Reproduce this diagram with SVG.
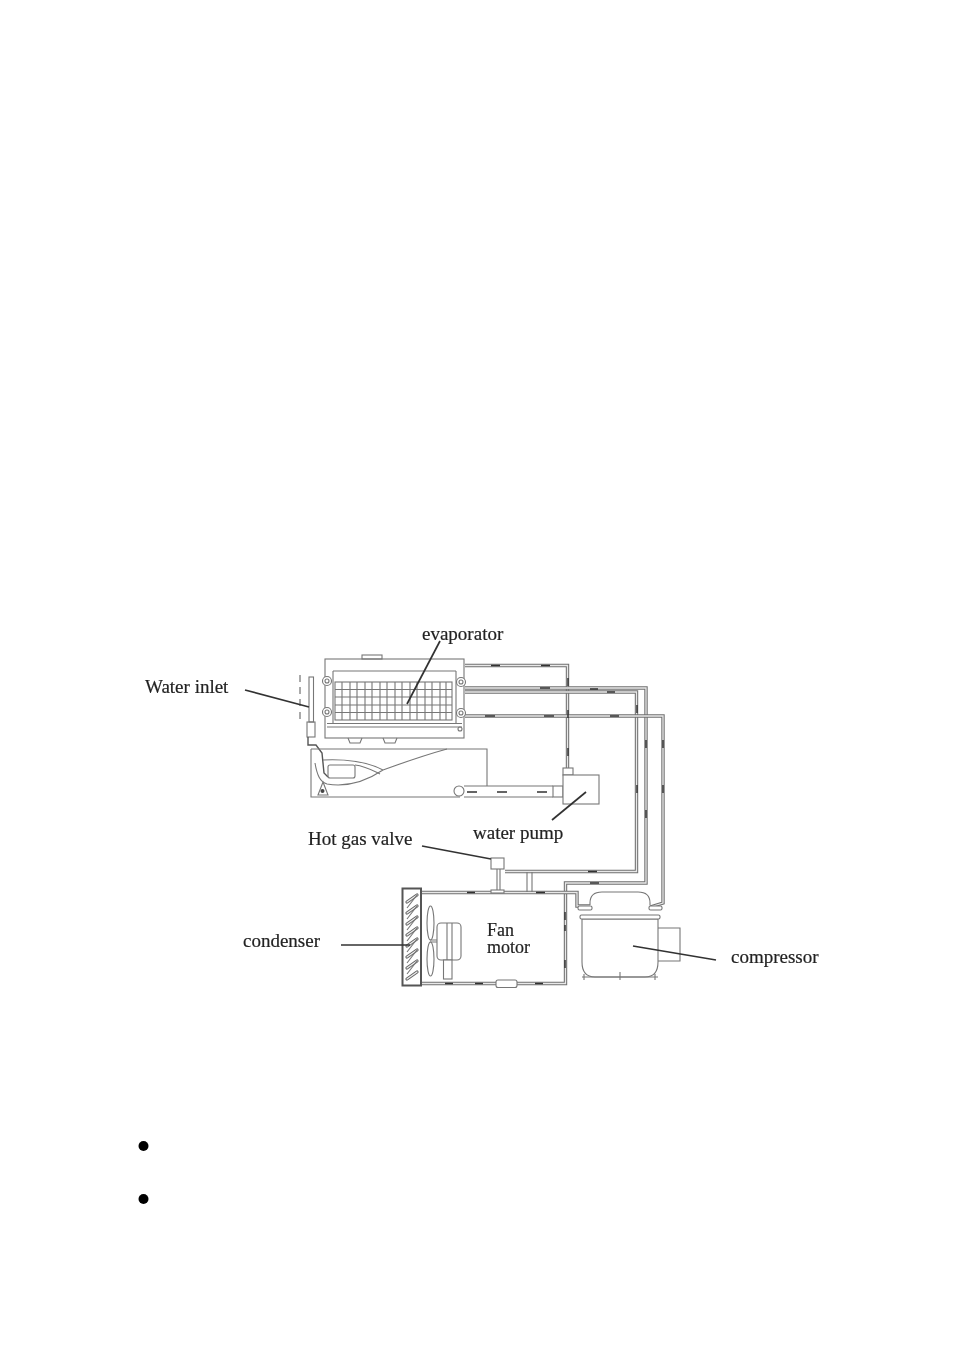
<svg xmlns="http://www.w3.org/2000/svg" width="954" height="1350" viewBox="0 0 954 1350">
<defs><filter id="scan" x="0" y="0" width="1" height="1" filterUnits="objectBoundingBox"><feGaussianBlur stdDeviation="0.35"/></filter></defs>
<style>
.l{fill:none;stroke:#777;stroke-width:1.1}
.w{fill:#fff;stroke:#777;stroke-width:1.1}
.p{fill:none;stroke:#707070;stroke-width:3.4}
.pi{fill:none;stroke:#e8e8e8;stroke-width:1.3}
.d{fill:none;stroke:#333;stroke-width:1.5}
.k{fill:none;stroke:#333;stroke-width:1.7}
.c{fill:none;stroke:#666;stroke-width:3.2;stroke-linecap:round}
.ci{fill:none;stroke:#eee;stroke-width:1.2;stroke-linecap:round}
.t{font-family:"Liberation Serif","Times New Roman",serif;font-size:19px;fill:#222;stroke:#222;stroke-width:.2}
</style>
<rect width="954" height="1350" fill="#fff"/>
<g filter="url(#scan)">
<rect width="954" height="1350" fill="#fff"/>
<g id="connectors">
<path class="p" d="M465 665.500H567.500V768"/><path class="pi" d="M465 665.500H567.500V768"/>
<path class="p" d="M465 688H646V883H565.500V983.500H421"/><path class="pi" d="M465 688H646V883H565.500V983.500H421"/>
<path class="p" d="M465 692H636.500V871.500H505"/><path class="pi" d="M465 692H636.500V871.500H505"/>
<path class="p" d="M465 716H663V903L650 907"/><path class="pi" d="M465 716H663V903L650 907"/>
<path class="p" d="M421 892.500H577V906H590"/><path class="pi" d="M421 892.500H577V906H590"/>
<path class="l" d="M527 872V892M532 872V892"/>
<path class="l" d="M464 786H553M464 797H553"/>
<g class="d">
<path d="M491 665.500h9M541 665.500h9M568 678v8M568 710v8M568 748v8"/>
<path d="M540 688h10M590 689h8M607 692h8M485 716h10M544 716h10M610 716h9"/>
<path d="M637 705v8M637 785v8M646 740v8M646 810v8M663 740v8M663 785v8"/>
<path d="M467 792h10M497 792h10M537 792h10"/>
<path d="M588 871.500h9M590 883h9M565 912v8M565 960v8M536 892.500h9M467 892.500h8M445 983.500h8M475 983.500h8M535 983.500h8M565 925v6"/>
</g>
</g>
<g id="evaporator">
<rect class="l" x="325" y="659" width="139" height="79"/>
<path class="l" d="M333 671H456M333 671V723M456 671V723"/>
<rect class="l" x="362" y="655" width="20" height="4"/>
<path class="l" d="M327 723.500H462M327 727H462M348 738l2 5h10l2-5M383 738l2 5h10l2-5"/>
<circle class="w" cx="327" cy="681" r="4.500"/><circle class="l" cx="327" cy="681" r="2"/>
<circle class="w" cx="327" cy="712" r="4.500"/><circle class="l" cx="327" cy="712" r="2"/>
<circle class="w" cx="461" cy="682" r="4.500"/><circle class="l" cx="461" cy="682" r="2"/>
<circle class="w" cx="461" cy="713" r="4.500"/><circle class="l" cx="461" cy="713" r="2"/>
<circle class="l" cx="460" cy="729" r="2"/>
<rect class="l" x="335" y="682" width="117" height="38"/>
<path class="l" d="M342 682v38M350 682v38M357 682v38M365 682v38M372 682v38M380 682v38M387 682v38M395 682v38M402 682v38M410 682v38M417 682v38M425 682v38M432 682v38M440 682v38M446 682v38M335 689.500h117M335 697h117M335 705h117M335 712.500h117"/>
</g>
<g id="water-inlet">
<rect class="l" x="309" y="677" width="4.500" height="45"/>
<rect class="l" x="307" y="722" width="8" height="15"/>
<path fill="none" stroke="#555" stroke-width="1.400" d="M308 737v8h8l6 8 2 20 4 4"/>
<path d="M300 675v35M300 712v11" fill="none" stroke="#555" stroke-dasharray="7 5"/>
</g>
<g id="tray">
<path class="l" d="M311 749H487V786M311 749V797H460"/>
<path class="l" d="M323 760C345 759 368 762 383 770C405 762 425 755 447 749M315 763C317 775 320 782 327 784C345 787 365 782 383 770M355 765C365 766 372 770 380 774"/>
<rect class="w" x="328" y="765" width="27" height="13" rx="2"/>
<path class="l" d="M323 782l5 13h-10z"/>
<circle cx="322.500" cy="791" r="2" fill="#444"/>
<circle class="l" cx="459" cy="791" r="5"/>
</g>
<g id="water-pump">
<rect class="w" x="553" y="786" width="10" height="11"/>
<rect class="w" x="563" y="768" width="10" height="7"/>
<rect class="w" x="563" y="775" width="36" height="29"/>
</g>
<g id="valve">
<rect class="w" x="491" y="858" width="13" height="11"/>
<path class="l" d="M497 869v22M500 869v22"/>
<rect class="w" x="491" y="890" width="13" height="3"/>
</g>
<g id="condenser">
<rect x="402.500" y="888.500" width="18.500" height="97" fill="#fff" stroke="#555" stroke-width="2"/>
<path class="c" d="M407 902L417 895M407 913L417 906M407 924L417 917M407 935L417 928M407 946L417 939M407 957L417 950M407 968L417 961M407 979L417 972"/>
<path class="ci" d="M407 902L417 895M407 913L417 906M407 924L417 917M407 935L417 928M407 946L417 939M407 957L417 950M407 968L417 961M407 979L417 972"/>
<path class="l" d="M417 895L407 908M417 906L407 919M417 917L407 930M417 928L407 941M417 939L407 952M417 950L407 963M417 961L407 974"/>
</g>
<g id="fan-motor">
<ellipse class="l" cx="430.500" cy="923" rx="3.500" ry="17"/>
<ellipse class="l" cx="430.500" cy="959" rx="3.500" ry="17"/>
<path class="l" d="M430 940h7M430 942h7"/>
<rect class="w" x="437" y="923" width="24" height="37" rx="4"/>
<path class="l" d="M447 923v37M452 923v37"/>
<rect class="w" x="443.500" y="960" width="8.500" height="19"/>
</g>
<g id="filter"><rect class="w" x="496" y="980" width="21" height="7.500" rx="2"/></g>
<g id="compressor">
<path class="w" d="M582 919H658V962Q658 977 645 977H595Q582 977 582 962Z"/>
<path class="l" d="M590 905V903Q590 892 602 892H638Q650 892 650 903V905"/>
<rect class="w" x="578" y="906" width="14" height="4" rx="1.500"/>
<rect class="w" x="649" y="906" width="13" height="4" rx="1.500"/>
<rect class="w" x="580" y="915" width="80" height="4" rx="1.500"/>
<path class="l" d="M658 928H680V961H658"/>
<path class="l" d="M582 977H658M584 974v6M620 972v8M655 974v6"/>
</g>
<g id="leaders">
<path class="k" d="M440 641L407 704"/>
<path class="k" d="M245 690L309 707"/>
<path class="k" d="M422 846L491 859"/>
<path class="k" d="M552 820L586 792"/>
<path class="k" d="M341 945H410"/>
<path class="k" d="M633 946L716 960"/>
</g>
<g id="labels">
<text class="t" x="422" y="640">evaporator</text>
<text class="t" x="145" y="693">Water inlet</text>
<text class="t" x="473" y="839">water pump</text>
<text class="t" x="308" y="845">Hot gas valve</text>
<text class="t" x="243" y="947">condenser</text>
<text class="t" x="487" y="936" style="font-size:18px">Fan</text>
<text class="t" x="487" y="953" style="font-size:18px">motor</text>
<text class="t" x="731" y="963">compressor</text>
</g>
</g>
<g id="bullets">
<circle cx="143.500" cy="1146" r="5" fill="#000"/>
<circle cx="143.500" cy="1199" r="5" fill="#000"/>
</g>
</svg>
